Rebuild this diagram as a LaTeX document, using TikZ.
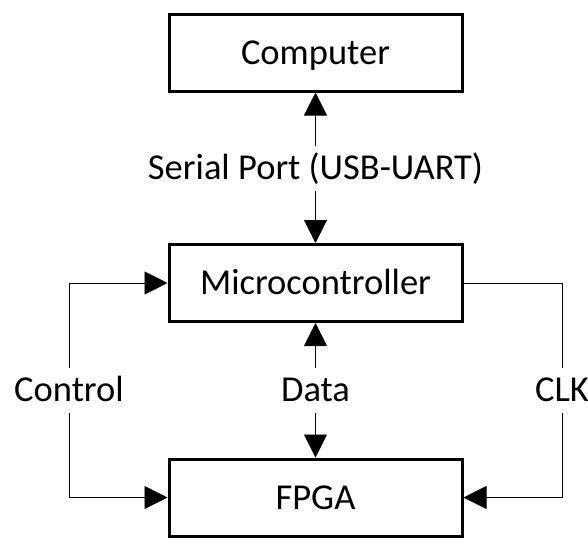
\documentclass[tikz,border=0pt]{standalone}
\usepackage{fontspec}
\setmainfont{Carlito}
\usetikzlibrary{arrows.meta}

\tikzset{
  blockbox/.style={draw, line width=3pt, minimum width=293pt, minimum height=77pt,
    inner sep=0pt, text height=23pt, text depth=0pt,
    font=\fontsize{36.5}{44}\selectfont},
  linklabel/.style={inner xsep=2pt, inner ysep=6pt, text height=27pt, text depth=5pt,
    font=\fontsize{36.5}{44}\selectfont},
  link/.style={line width=0.9pt},
  tip/.style={link, -{Triangle[length=23pt,width=23pt]}}
}

\begin{document}
\begin{tikzpicture}[x=1pt, y=-1pt]
  \useasboundingbox (0,0) rectangle (588,539);

  % blocks
  \node[blockbox] (comp) at (315.5,52.5) {Computer};
  \node[blockbox] (mcu)  at (315.5,283)  {Microcontroller};
  \node[blockbox] (fpga) at (315.5,497.5) {FPGA};

  % connector labels
  \node[linklabel] (serial) at (315.5,168.5) {Serial Port (USB-UART)};
  \node[linklabel] (data)   at (315.5,390.5) {Data};
  \node[linklabel] (ctrl)   at (69,390.5)    {Control};
  \node[linklabel] (clk)    at (562,390.5)   {CLK};

  % serial link, both directions
  \draw[tip] (serial.north) -- (comp.south);
  \draw[tip] (serial.south) -- (mcu.north);

  % data bus, both directions
  \draw[tip] (data.north) -- (mcu.south);
  \draw[tip] (data.south) -- (fpga.north);

  % control lines on the left
  \draw[tip] (ctrl.north) |- (mcu.west);
  \draw[tip] (ctrl.south) |- (fpga.west);

  % clock from the microcontroller to the FPGA
  \draw[link] (mcu.east) -| (clk.north);
  \draw[tip] (clk.south) |- (fpga.east);
\end{tikzpicture}
\end{document}
